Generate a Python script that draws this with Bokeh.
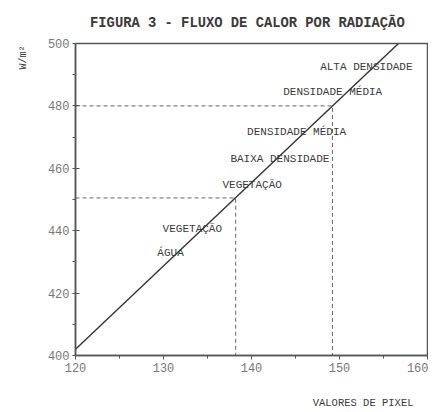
from bokeh.plotting import figure
from bokeh.models import ColumnDataSource, FixedTicker, Title, LinearAxis
from bokeh.core.properties import value
from bokeh.embed import file_html
from bokeh.resources import INLINE

# --- data ---
line_x = [120, 156.7]
line_y = [402, 500]

ref1_x = 138.2
ref1_y = 450.5
ref2_x = 149.2
ref2_y = 480

label_text = ["ALTA DENSIDADE", "DENSIDADE MÉDIA", "DENSIDADE MÉDIA", "BAIXA DENSIDADE",
              "VEGETAÇÃO", "VEGETAÇÃO", "ÁGUA"]
label_x = [147.8, 143.6, 139.5, 137.6, 136.7, 129.9, 129.3]
label_y = [492.6, 484.6, 471.5, 463.1, 454.5, 440.7, 433.0]

x_ticks = [120, 130, 140, 150, 160]
y_ticks = [400, 420, 440, 460, 480, 500]

FONT = "Liberation Mono"
INK = "#3a3a3a"

p = figure(width=428, height=412, x_range=(120, 160), y_range=(400, 500),
           output_backend="svg", toolbar_location=None,
           min_border_left=75, min_border_right=1, min_border_top=43, min_border_bottom=57)

p.title.text = "FIGURA 3 - FLUXO DE  CALOR POR RADIAÇÃO"
p.title.text_font = FONT
p.title.text_font_style = "bold"
p.title.text_font_size = "13.8px"
p.title.text_color = INK
p.title.align = "center"
p.title.standoff = 26

p.grid.visible = False
p.outline_line_color = "#555555"
p.outline_line_width = 1.5
p.background_fill_color = "white"
p.border_fill_color = "white"

p.xaxis.ticker = FixedTicker(ticks=x_ticks, minor_ticks=[125, 135, 145, 155])
p.yaxis.ticker = FixedTicker(ticks=y_ticks, minor_ticks=[410, 430, 450, 470, 490])
for ax in (p.xaxis, p.yaxis):
    ax.axis_line_color = "#555555"
    ax.axis_line_width = 1.5
    ax.major_tick_line_color = "#555555"
    ax.minor_tick_line_color = "#555555"
    ax.major_label_text_font = FONT
    ax.major_label_text_font_size = "12px"
    ax.major_label_text_color = "#777777"
    ax.major_label_standoff = 3

p.xaxis.major_tick_in = 0
p.xaxis.major_tick_out = 4
p.xaxis.minor_tick_in = 0
p.xaxis.minor_tick_out = 3
p.yaxis.major_tick_in = 4
p.yaxis.major_tick_out = 3
p.yaxis.minor_tick_in = 0
p.yaxis.minor_tick_out = 3


def spacer(size, tick):
    # an invisible axis used only to reserve space between the axis and its title
    return LinearAxis(ticker=FixedTicker(ticks=[tick], minor_ticks=[]),
                      major_label_overrides={tick: ""},
                      axis_line_color="white", axis_line_alpha=0.01,
                      major_tick_line_color="white", major_tick_line_alpha=0.01,
                      minor_tick_line_color=None,
                      major_tick_in=0, major_tick_out=size, minor_tick_in=0, minor_tick_out=0,
                      major_label_standoff=0, major_label_text_font_size="1px")


p.add_layout(spacer(17, 140), "below")
p.add_layout(Title(text="VALORES DE PIXEL", align="right", text_font=FONT, text_font_size="10.5px",
                   text_font_style="normal", text_color=INK, standoff=6, offset=14), "below")
p.add_layout(spacer(13, 450), "left")
p.add_layout(Title(text="W/m²", align="right", text_font=FONT, text_font_size="10px",
                   text_font_style="normal", text_color=INK, standoff=6, offset=2), "left")

# dashed reference lines
p.line([120, ref1_x, ref1_x], [ref1_y, ref1_y, 400], line_dash="4 3", line_color="#666666", line_width=1)
p.line([120, ref2_x, ref2_x], [ref2_y, ref2_y, 400], line_dash="4 3", line_color="#666666", line_width=1)

# main line
src_line = ColumnDataSource(data=dict(x=line_x, y=line_y))
p.line("x", "y", source=src_line, line_color="#333333", line_width=1.4)

# labels
src_lab = ColumnDataSource(data=dict(x=label_x, y=label_y, text=label_text))
p.text("x", "y", text="text", source=src_lab, text_font=value(FONT), text_font_size="11px",
       text_color=INK, text_baseline="middle", text_align="left")

open("out.html", "w").write(file_html(p, INLINE))
